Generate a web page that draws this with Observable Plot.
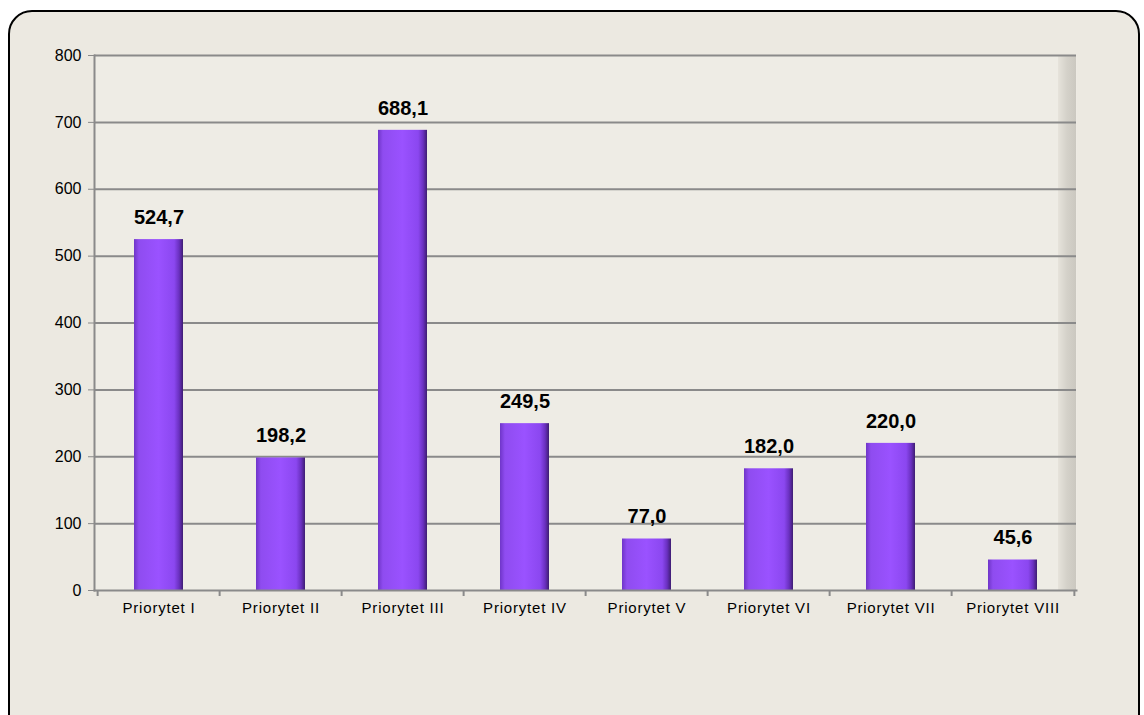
<!DOCTYPE html>
<html><head><meta charset="utf-8">
<script src="https://cdn.jsdelivr.net/npm/d3@7"></script>
<script src="https://cdn.jsdelivr.net/npm/@observablehq/plot@0.6"></script>
<style>
body{margin:0;background:#fff;overflow:hidden;}
#frame{position:absolute;left:8px;top:10px;width:1132px;height:730px;border:2px solid #000;border-radius:24px;background:#ECE9E1;box-sizing:border-box;}
#chart{position:absolute;left:0;top:0;}
#chart g[aria-label="x-axis tick label"]{letter-spacing:0.8px;}
</style></head><body><div id="frame"></div><div id="chart"></div>
<script>
const categories = ["Priorytet I","Priorytet II","Priorytet III","Priorytet IV","Priorytet V","Priorytet VI","Priorytet VII","Priorytet VIII"];
const values = [524.7, 198.2, 688.1, 249.5, 77.0, 182.0, 220.0, 45.6];
const valueLabels = ["524,7","198,2","688,1","249,5","77,0","182,0","220,0","45,6"];
const yTicks = [0,100,200,300,400,500,600,700,800];

const data = categories.map((c,i)=>({c, v: values[i], label: valueLabels[i]}));
const halfStep = (1144 - 94 - 68) / categories.length / 2;

const plot = Plot.plot({
  width: 1144, height: 715,
  marginLeft: 94, marginRight: 68, marginTop: 55, marginBottom: 125,
  style: {background: "transparent", fontFamily: "'Liberation Sans', Arial, sans-serif", fontSize: "15px", color: "#000"},
  x: {domain: categories, paddingInner: 0.6, paddingOuter: 0.3, label: null},
  y: {domain: [0, 800], label: null},
  marks: [
    Plot.frame({fill: "#EEECE5"}),
    Plot.rect([0], {y1: 0, y2: 800, insetLeft: 964, fill: "url(#wallGrad)"}),
    Plot.gridY(yTicks.filter(t => t > 0), {stroke: "#8a8a8a", strokeOpacity: 1, strokeWidth: 2}),
    Plot.axisY({ticks: yTicks, tickSize: 6, tickPadding: 7, stroke: "#8a8a8a", fill: "#000", label: null, fontSize: 16}),
    Plot.axisX({tickSize: 0, tickPadding: 12, fill: "#000", label: null, fontSize: 15}),
    Plot.axisX({tickSize: 6, text: null, dx: -halfStep, stroke: "#8a8a8a", strokeWidth: 2, label: null}),
    Plot.axisX({ticks: [categories[categories.length - 1]], tickSize: 6, text: null, dx: halfStep, stroke: "#8a8a8a", strokeWidth: 2, label: null}),
    Plot.barY(data, {x: "c", y: "v", fill: "url(#barGrad)"}),
    Plot.barY(data, {x: "c", y1: "v", y2: "v", fill: "none", stroke: "#C7A4FF", strokeWidth: 3, insetLeft: 6, insetRight: 6, dy: 6, strokeOpacity: 0.7}),
    Plot.text(data, {x: "c", y: "v", text: "label", dy: -22, fontWeight: "bold", fontSize: 20, fill: "#000"}),
    Plot.frame({anchor: "left", stroke: "#8a8a8a", strokeWidth: 2}),
    Plot.frame({anchor: "bottom", stroke: "#8a8a8a", strokeWidth: 2})
  ]
});

const svg = d3.select(plot);
const defs = svg.insert("defs", ":first-child");
const g = defs.append("linearGradient").attr("id", "barGrad").attr("x1", 0).attr("x2", 1).attr("y1", 0).attr("y2", 0);
[[0, "#6F35C8"], [0.1, "#8F4CF0"], [0.5, "#9A52FF"], [0.82, "#8B47F0"], [0.92, "#6A30C0"], [1, "#3E1D72"]]
  .forEach(([o, c]) => g.append("stop").attr("offset", o).attr("stop-color", c));
const w = defs.append("linearGradient").attr("id", "wallGrad").attr("x1", 0).attr("x2", 1).attr("y1", 0).attr("y2", 0);
[[0, "#E6E3DB"], [0.5, "#D4D1C9"], [1, "#CBC8C0"]]
  .forEach(([o, c]) => w.append("stop").attr("offset", o).attr("stop-color", c));

document.getElementById("chart").appendChild(plot);
</script></body></html>
